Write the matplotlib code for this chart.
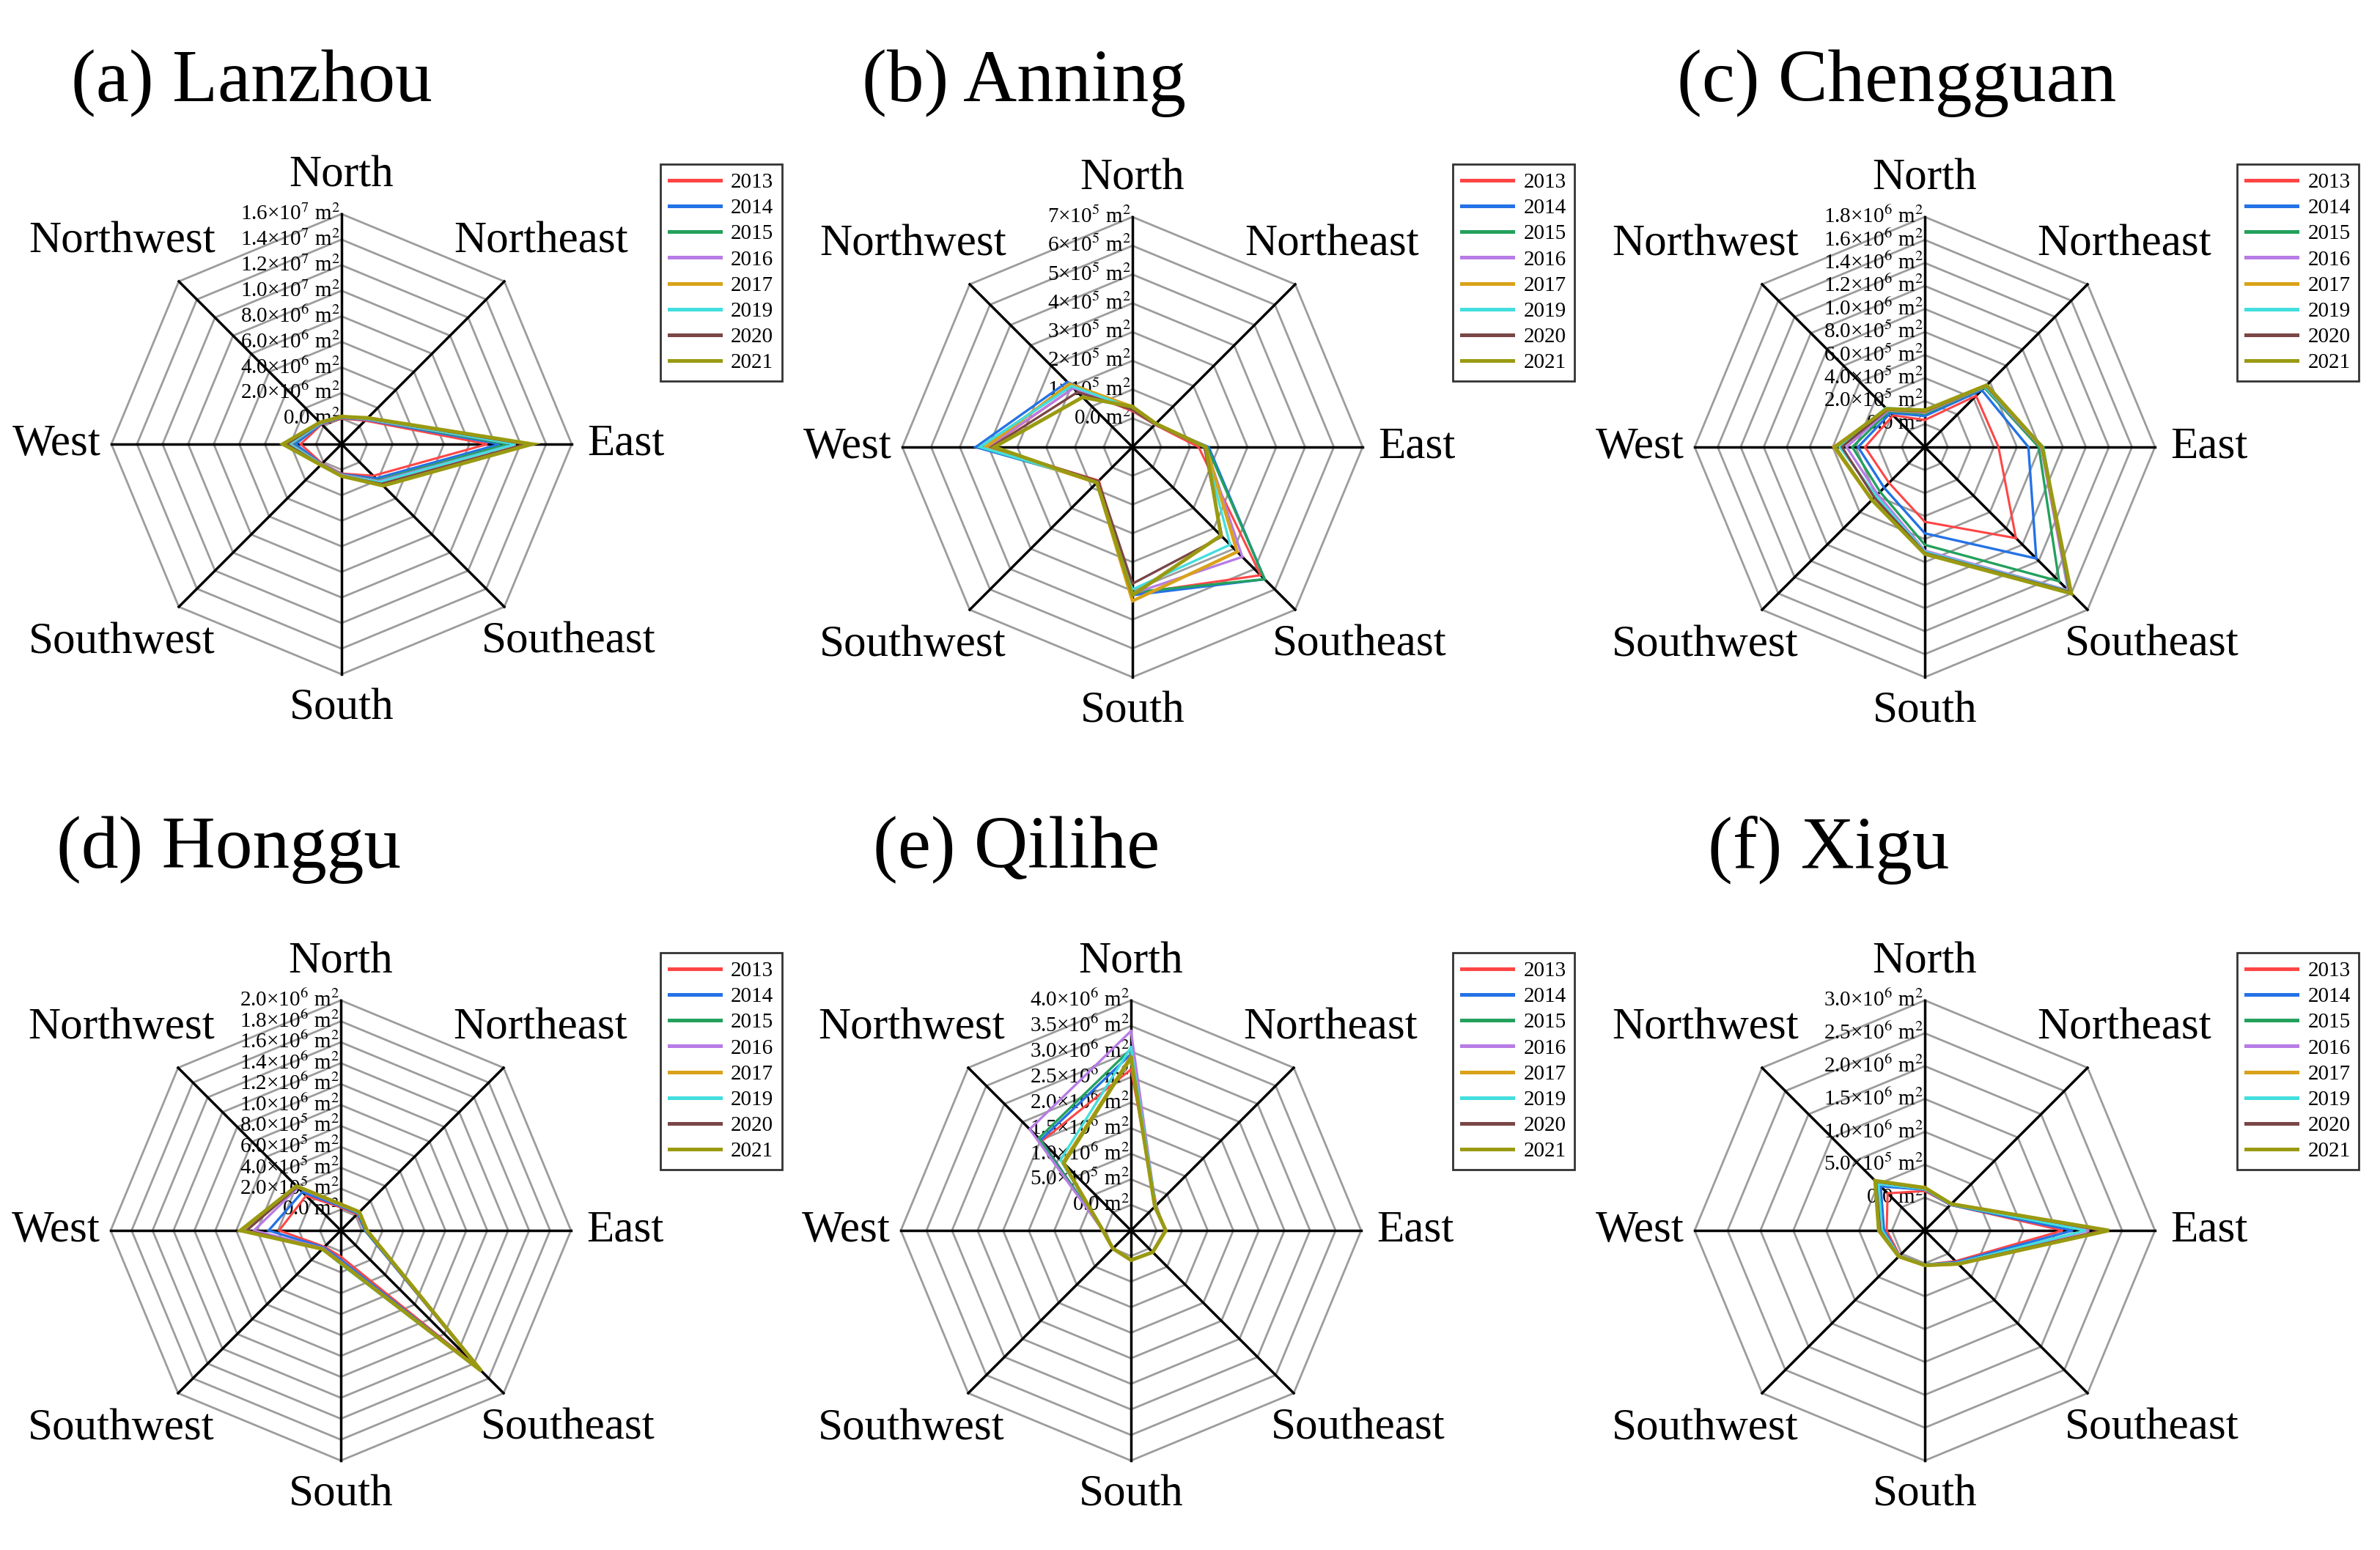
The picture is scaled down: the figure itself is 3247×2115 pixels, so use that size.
import numpy as np
import matplotlib
matplotlib.use("Agg")
import matplotlib.pyplot as plt
from matplotlib.transforms import offset_copy

plt.rcParams["font.family"] = ["Liberation Serif", "DejaVu Serif"]
plt.rcParams["mathtext.fontset"] = "stix"

# ─── DATA ────────────────────────────────────────────────────
DIRECTIONS = ["North", "Northeast", "East", "Southeast",
              "South", "Southwest", "West", "Northwest"]
YEARS = ["2013", "2014", "2015", "2016", "2017", "2019", "2020", "2021"]
COLORS = ["#ff4545", "#2472e6", "#23a15c", "#b77ce6",
          "#d9a21a", "#43dede", "#7a4646", "#9a9a12"]

# rows = years, columns = N, NE, E, SE, S, SW, W, NW
LANZHOU = np.array([            # x 1e6 m2
    [0.00, 0.60,  9.4, 1.5, 0.30, 0.15, 1.2, 0.20],
    [0.05, 0.70, 10.4, 1.8, 0.35, 0.20, 1.6, 0.25],
    [0.10, 0.75, 11.0, 2.0, 0.40, 0.22, 1.9, 0.30],
    [0.10, 0.75, 11.6, 2.1, 0.40, 0.22, 2.0, 0.30],
    [0.15, 0.85, 12.6, 2.5, 0.50, 0.30, 2.5, 0.38],
    [0.12, 0.80, 11.6, 2.2, 0.45, 0.25, 2.1, 0.32],
    [0.14, 0.85, 12.4, 2.4, 0.48, 0.28, 2.3, 0.36],
    [0.15, 0.90, 12.9, 2.6, 0.50, 0.30, 2.6, 0.40],
]) * 1e6

ANNING = np.array([             # x 1e5 m2
    [0.25, 0.10, 1.30, 5.30, 4.10, 0.65, 4.00, 1.90],
    [0.30, 0.12, 1.65, 5.50, 4.15, 0.70, 4.45, 2.20],
    [0.30, 0.12, 1.60, 5.50, 4.05, 0.72, 4.30, 2.00],
    [0.30, 0.12, 1.55, 4.40, 4.10, 0.70, 4.05, 1.90],
    [0.40, 0.15, 1.55, 4.15, 4.35, 0.75, 4.10, 2.10],
    [0.35, 0.12, 1.50, 3.80, 3.95, 0.70, 4.30, 2.00],
    [0.30, 0.12, 1.50, 3.40, 3.75, 0.68, 3.90, 1.70],
    [0.40, 0.15, 1.55, 3.35, 4.15, 0.75, 3.80, 1.45],
]) * 1e5

CHENGGUAN = np.array([          # x 1e5 m2
    [0.35, 4.3, 4.4,  9.2, 4.5, 2.4, 3.2, 1.9],
    [0.70, 5.0, 7.0, 11.7, 5.5, 3.0, 3.8, 2.2],
    [0.90, 5.3, 7.9, 14.5, 6.5, 3.5, 4.3, 2.4],
    [1.00, 5.4, 8.1, 15.6, 7.0, 3.8, 4.8, 2.5],
    [1.10, 5.6, 8.2, 15.8, 7.2, 4.5, 5.9, 2.6],
    [1.20, 5.4, 8.3, 15.7, 7.1, 4.0, 5.4, 2.8],
    [1.10, 5.5, 8.2, 15.8, 7.2, 4.2, 5.2, 2.6],
    [1.20, 5.6, 8.2, 16.0, 7.3, 4.5, 5.8, 2.7],
]) * 1e5

HONGGU = np.array([             # x 1e5 m2
    [0.2, 0.2, 0.3, 16.6, 0.5, 0.2, 3.9, 2.7],
    [0.3, 0.3, 0.3, 16.8, 0.8, 0.3, 4.9, 3.2],
    [0.4, 0.4, 0.4, 17.0, 1.2, 0.5, 7.4, 4.0],
    [0.4, 0.4, 0.5, 17.0, 1.0, 0.4, 6.3, 3.8],
    [0.5, 0.5, 0.5, 17.0, 1.1, 0.5, 7.5, 4.0],
    [0.5, 0.4, 0.5, 17.0, 1.2, 0.5, 7.6, 4.0],
    [0.5, 0.5, 0.5, 17.0, 1.1, 0.5, 7.0, 3.9],
    [0.5, 0.5, 0.5, 17.0, 1.1, 0.5, 7.6, 4.0],
]) * 1e5

QILIHE = np.array([             # x 1e6 m2
    [2.65, 0.20, 0.16, 0.10, 0.08, 0.00, 0.05, 1.97],
    [2.95, 0.18, 0.18, 0.10, 0.08, 0.00, 0.05, 2.00],
    [3.05, 0.18, 0.18, 0.10, 0.08, 0.00, 0.05, 2.05],
    [3.40, 0.18, 0.18, 0.10, 0.08, 0.00, 0.05, 2.30],
    [2.90, 0.16, 0.18, 0.10, 0.08, 0.00, 0.05, 1.38],
    [3.08, 0.18, 0.18, 0.10, 0.08, 0.00, 0.05, 1.45],
    [2.90, 0.16, 0.18, 0.10, 0.08, 0.00, 0.05, 1.36],
    [2.88, 0.16, 0.18, 0.10, 0.08, 0.00, 0.05, 1.36],
]) * 1e6

XIGU = np.array([               # x 1e6 m2
    [0.10, 0.05, 1.60, 0.16, 0.02, 0.04, 0.08, 0.30],
    [0.12, 0.05, 1.75, 0.18, 0.02, 0.05, 0.12, 0.45],
    [0.13, 0.06, 1.95, 0.20, 0.02, 0.05, 0.15, 0.50],
    [0.13, 0.06, 2.00, 0.20, 0.02, 0.05, 0.15, 0.50],
    [0.15, 0.07, 2.25, 0.22, 0.03, 0.06, 0.20, 0.55],
    [0.13, 0.06, 1.95, 0.20, 0.02, 0.05, 0.15, 0.50],
    [0.14, 0.07, 2.20, 0.21, 0.03, 0.06, 0.18, 0.55],
    [0.15, 0.07, 2.30, 0.22, 0.03, 0.06, 0.20, 0.57],
]) * 1e6

TITLES = ["(a) Lanzhou", "(b) Anning", "(c) Chengguan",
          "(d) Honggu", "(e) Qilihe", "(f) Xigu"]
DATASETS = [LANZHOU, ANNING, CHENGGUAN, HONGGU, QILIHE, XIGU]
RMAX = [1.6e7, 7e5, 1.8e6, 2.0e6, 4.0e6, 3.0e6]
STEP = [2e6, 1e5, 2e5, 2e5, 5e5, 5e5]
DECIMALS = [1, 0, 1, 1, 1, 1]

# ─── LAYOUT (pixels of the 3247 x 2115 canvas) ───────────────
W, H = 3247, 2115
R = 314
CENTERS = [(466, 606), (1545, 610), (2626, 610),
           (465, 1679), (1543, 1679), (2626, 1679)]
TITLE_POS = [(97, 114), (1176, 114), (2288, 114),
             (77, 1160), (1191, 1160), (2330, 1160)]
LEGEND_POS = [(901, 224), (1982, 224), (3052, 224),
              (901, 1300), (1982, 1300), (3052, 1300)]
# direction label centres, in units of the radius
LABEL_OFF = [(0, 1.165), (0.868, 0.88), (1.237, 0), (0.987, -0.86),
             (0, -1.15), (-0.954, -0.86), (-1.237, 0), (-0.954, 0.88)]
LINE_W = [2.2, 2.4, 2.4, 2.4, 3.2, 2.4, 2.4, 3.6]


def tick_text(v, dec):
    if v == 0:
        return "0.0 m$^{2}$"
    e = int(np.floor(np.log10(v) + 1e-9))
    return f"{v / 10**e:.{dec}f}×10$^{{{e}}}$ m$^{{2}}$"


fig = plt.figure(figsize=(W / 100, H / 100), dpi=100)
theta = np.arange(8) * 2 * np.pi / 8
theta_c = np.append(theta, theta[0])

for i in range(6):
    cx, cy = CENTERS[i]
    ax = fig.add_axes([(cx - R) / W, 1 - (cy + R) / H, 2 * R / W, 2 * R / H],
                      projection="polar")
    ax.set_theta_zero_location("N")
    ax.set_theta_direction(-1)
    ax.patch.set_visible(False)
    ax.spines["polar"].set_visible(False)
    ax.grid(False)
    ax.set_xticks([])
    ax.set_yticks([])

    rmin = -STEP[i]
    rings = np.arange(0, RMAX[i] + STEP[i] / 2, STEP[i])

    # octagonal grid
    for v in rings:
        ax.plot(theta_c, np.full(9, v), color="#9c9c9c", lw=2.0,
                zorder=1, clip_on=False)
    # spokes
    for t in theta:
        ax.plot([t, t], [rmin, RMAX[i]], color="black", lw=2.5,
                zorder=2, clip_on=False)

    # tick labels along the north spoke
    tr = offset_copy(ax.transData, fig=fig, x=-2, y=0, units="dots")
    for v in rings:
        ax.text(0, v, tick_text(v, DECIMALS[i]), transform=tr,
                ha="right", va="center", fontsize=21, zorder=2.5)

    # data
    handles = []
    for k, yr in enumerate(YEARS):
        vals = DATASETS[i][k]
        ln, = ax.plot(theta_c, np.append(vals, vals[0]), color=COLORS[k],
                      lw=LINE_W[k], zorder=3 + k, clip_on=False,
                      solid_joinstyle="miter")
        handles.append(ln)

    ax.set_ylim(rmin, RMAX[i])

    # direction labels
    for name, (dx, dy) in zip(DIRECTIONS, LABEL_OFF):
        ax.text(0.5 + 0.5 * dx, 0.5 + 0.5 * dy, name, transform=ax.transAxes,
                ha="center", va="center", fontsize=44)

    # title
    tx, ty = TITLE_POS[i]
    fig.text(tx / W, 1 - ty / H, TITLES[i], ha="left", va="center",
             fontsize=73)

    # legend
    lx, ly = LEGEND_POS[i]
    leg = ax.legend(handles, YEARS, loc="upper left",
                    bbox_to_anchor=(lx / W, 1 - ly / H),
                    bbox_transform=fig.transFigure,
                    fontsize=21, frameon=True, fancybox=False,
                    edgecolor="black", handlelength=2.4, handletextpad=0.5,
                    labelspacing=0.3, borderpad=0.4, borderaxespad=0)
    leg.get_frame().set_linewidth(2.0)
    for hl in leg.get_lines():
        hl.set_linewidth(3.6)

fig.savefig("out.png", dpi=100)
